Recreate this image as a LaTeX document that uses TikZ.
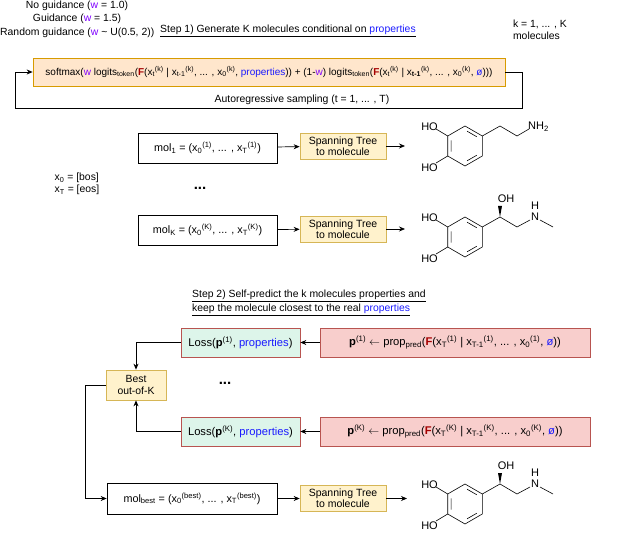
\documentclass[tikz,border=0pt]{standalone}
\usepackage{fontspec}
\setmainfont{Liberation Sans}
\usetikzlibrary{calc,arrows.meta}
\definecolor{wpur}{HTML}{7F00FF}
\definecolor{pblue}{HTML}{1A1AFF}
\definecolor{fred}{HTML}{A50000}
\definecolor{orfill}{HTML}{FFE6CC}
\definecolor{ordraw}{HTML}{D79B00}
\definecolor{yefill}{HTML}{FFF2CC}
\definecolor{yedraw}{HTML}{D6B656}
\definecolor{grfill}{HTML}{DDF5EA}
\definecolor{rdfill}{HTML}{F8CECC}
\definecolor{rddraw}{HTML}{B85450}
\newcommand\pw{\textcolor{wpur}{w}}
\newcommand\pprop{\textcolor{pblue}{properties}}
\newcommand\pF{\textcolor{fred}{\textbf{F}}}
\newcommand\pemp{\textcolor{pblue}{ø}}
\newcommand\sub[1]{\textsubscript{#1}}
\newcommand\sups[1]{\textsuperscript{#1}}
\begin{document}
\begin{tikzpicture}[x=1pt,y=-1pt,font=\fontsize{10.4}{12.5}\selectfont,
  arr/.style={-{Stealth[length=6pt,width=5pt]},line width=0.7pt},
  box/.style={draw,line width=0.7pt,inner sep=1pt,align=center},
  plain/.style={box,fill=white,draw=black,font=\fontsize{10.8}{12}\selectfont},
  st/.style={box,fill=yefill,draw=yedraw,minimum width=86pt,minimum height=26pt,font=\fontsize{10.5}{11}\selectfont},
  loss/.style={box,fill=grfill,draw=rddraw,minimum width=119pt,minimum height=29pt,font=\fontsize{11.2}{12}\selectfont},
  pred/.style={box,fill=rdfill,draw=rddraw,minimum width=270pt,minimum height=29pt,font=\fontsize{11.2}{12}\selectfont},
  txt/.style={inner sep=0pt,align=center},
  mtxt/.style={txt,font=\fontsize{11}{12}\selectfont},
  pics/dopa/.style={code={
    \draw[line width=0.6pt] (0,-20) -- (17.3,-10) -- (17.3,10) -- (0,20) -- (-17.3,10) -- (-17.3,-10) -- cycle;
    \draw[line width=0.6pt] ($(0,-16)!0.15!(13.9,-8)$) -- ($(0,-16)!0.85!(13.9,-8)$)
      ($(13.9,8)!0.15!(0,16)$) -- ($(13.9,8)!0.85!(0,16)$)
      ($(-13.9,8)!0.15!(-13.9,-8)$) -- ($(-13.9,8)!0.85!(-13.9,-8)$);
    \draw[line width=0.6pt] (-17.3,-10) -- (-29,-17) (-17.3,10) -- (-29,17);
    \node[mtxt,anchor=east] at (-27,-19) {HO};
    \node[mtxt,anchor=east] at (-27,22) {HO};
    \draw[line width=0.6pt] (17.3,-10) -- (35,-20) -- (52,-10) -- (64,-17);
    \node[mtxt,anchor=west] at (63,-19) {NH\sub{2}};
  }},
  pics/adren/.style={code={
    \draw[line width=0.6pt] (0,-20) -- (17.3,-10) -- (17.3,10) -- (0,20) -- (-17.3,10) -- (-17.3,-10) -- cycle;
    \draw[line width=0.6pt] ($(0,-16)!0.15!(13.9,-8)$) -- ($(0,-16)!0.85!(13.9,-8)$)
      ($(13.9,8)!0.15!(0,16)$) -- ($(13.9,8)!0.85!(0,16)$)
      ($(-13.9,8)!0.15!(-13.9,-8)$) -- ($(-13.9,8)!0.85!(-13.9,-8)$);
    \draw[line width=0.6pt] (-17.3,-10) -- (-29,-17) (-17.3,10) -- (-29,17);
    \node[mtxt,anchor=east] at (-27,-19) {HO};
    \node[mtxt,anchor=east] at (-27,22) {HO};
    \draw[line width=0.6pt] (17.3,-10) -- (35,-20) -- (52,-10) -- (65,-17);
    \fill (35,-20) -- (33,-31) -- (37,-31) -- cycle;
    \node[mtxt] at (41,-38) {OH};
    \node[mtxt] at (70,-20) {N};
    \node[mtxt] at (70,-31) {H};
    \draw[line width=0.6pt] (75,-17) -- (88,-10);
  }}]
\useasboundingbox (0,0) rectangle (640,534);
% top-left legend
\node[txt] (ng) at (77,6) {No guidance (\pw{} = 1.0)};
\node[txt] (g) at (77,19) {Guidance (\pw{} = 1.5)};
\node[txt,anchor=west] (rg) at (0,33) {Random guidance (\pw{} \textasciitilde{} U(0.5, 2))};
\node[txt,anchor=west] (s1) at (160,31) {\underline{Step 1) Generate K molecules conditional on \pprop}};
\node[txt,align=left] (km) at (540,30) {k = 1, ... , K\\molecules};
% softmax box
\node[box,fill=orfill,draw=ordraw,minimum width=472pt,minimum height=28pt,font=\fontsize{10}{11}\selectfont] (sm) at (269,72)
 {softmax(\pw{} logits\sub{token}(\pF(x\sub{t}\sups{(k)} | x\sub{t-1}\sups{(k)}, ... , x\sub{0}\sups{(k)}, \pprop)) + (1-\pw) logits\sub{token}(\pF(x\sub{t}\sups{(k)} | x\sub{\textbf{t-1}}\sups{(k)}, ... , x\sub{0}\sups{(k)}, \pemp)))};
\coordinate (l1) at (522,72);
\coordinate (l2) at (15,108);
\draw[arr] (sm.east) -- (l1) |- (l2) |- (sm.west);
\node[txt] (ar) at (302,100) {Autoregressive sampling (t = 1, ... , T)};
% molecules generation
\node[plain,minimum width=139pt,minimum height=30pt] (m1) at (207.5,148) {mol\sub{1} = (x\sub{0}\sups{(1)}, ... , x\sub{T}\sups{(1)})};
\node[st] (st1) at (343,146) {Spanning Tree\\to molecule};
\node[plain,minimum width=139pt,minimum height=30pt] (mK) at (207.5,230) {mol\sub{K} = (x\sub{0}\sups{(K)}, ... , x\sub{T}\sups{(K)})};
\node[st] (stK) at (343,229) {Spanning Tree\\to molecule};
\coordinate (d1) at (405,146);
\coordinate (dK) at (405,229);
\draw[arr] (m1) -- (st1);
\draw[arr] (st1) -- (d1);
\draw[arr] (mK) -- (stK);
\draw[arr] (stK) -- (dK);
\pic at (465,146) {dopa};
\pic at (465,237) {adren};
\node[txt,align=left] (bos) at (77,184) {x\sub{0} = [bos]\\x\sub{T} = [eos]};
\node[txt,font=\bfseries\fontsize{15}{15}\selectfont] (dots1) at (200,188) {...};
% step 2
\node[txt,align=left,anchor=west] (s2) at (192,303) {\underline{Step 2) Self-predict the k molecules properties and}\\[1pt]\underline{keep the molecule closest to the real \pprop}};
\node[loss] (L1) at (240.5,342.5) {Loss(\textbf{p}\sups{(1)}, \pprop)};
\node[pred] (P1) at (455,342.5) {\textbf{p}\sups{(1)} $\leftarrow$ prop\sub{pred}(\pF(x\sub{T}\sups{(1)} | x\sub{T-1}\sups{(1)}, ... , x\sub{0}\sups{(1)}, \pemp))};
\node[loss] (LK) at (240.5,431.5) {Loss(\textbf{p}\sups{(K)}, \pprop)};
\node[pred] (PK) at (455,431.5) {\textbf{p}\sups{(K)} $\leftarrow$ prop\sub{pred}(\pF(x\sub{T}\sups{(K)} | x\sub{T-1}\sups{(K)}, ... , x\sub{0}\sups{(K)}, \pemp))};
\node[box,fill=yefill,draw=yedraw,minimum width=60pt,minimum height=30pt] (best) at (136,385) {Best\\out-of-K};
\node[txt,font=\bfseries\fontsize{15}{15}\selectfont] (dots2) at (225,383) {...};
\draw[arr] (P1) -- (L1);
\draw[arr] (PK) -- (LK);
\draw[arr] (L1.west) -| (best.north);
\draw[arr] (LK.west) -| (best.south);
\node[plain,minimum width=170pt,minimum height=31pt] (mb) at (192,498.5) {mol\sub{best} = (x\sub{0}\sups{(best)}, ... , x\sub{T}\sups{(best)})};
\coordinate (bl) at (85,385);
\draw[arr] (best.west) -- (bl) |- (mb.west);
\node[st] (stb) at (343,498.5) {Spanning Tree\\to molecule};
\coordinate (db) at (407,498.5);
\draw[arr] (mb) -- (stb);
\draw[arr] (stb) -- (db);
\pic at (465,504) {adren};
\end{tikzpicture}
\end{document}
